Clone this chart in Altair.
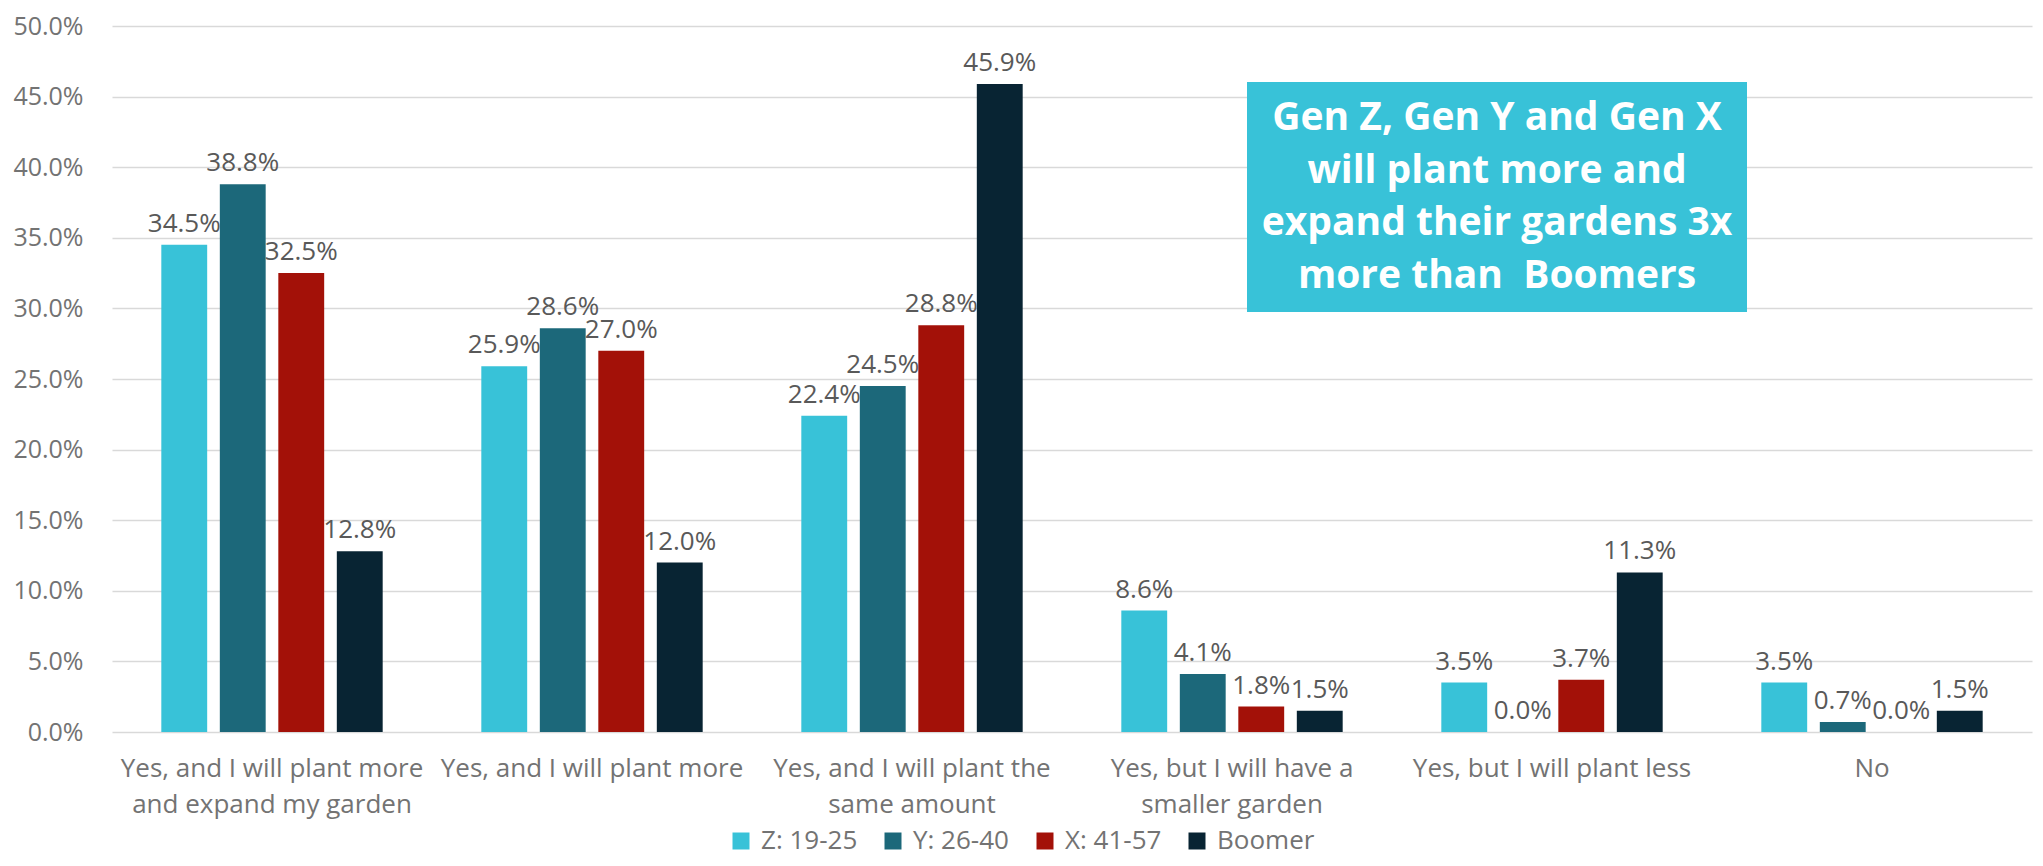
import altair as alt
import pandas as pd

categories = [
    "Yes, and I will plant more|and expand my garden",
    "Yes, and I will plant more",
    "Yes, and I will plant the|same amount",
    "Yes, but I will have a|smaller garden",
    "Yes, but I will plant less",
    "No",
]
series = ["Z: 19-25", "Y: 26-40", "X: 41-57", "Boomer"]
colors = ["#38C2D8", "#1C687A", "#A31108", "#082433"]

gen_z = [34.5, 25.9, 22.4, 8.6, 3.5, 3.5]
gen_y = [38.8, 28.6, 24.5, 4.1, 0.0, 0.7]
gen_x = [32.5, 27.0, 28.8, 1.8, 3.7, 0.0]
boomer = [12.8, 12.0, 45.9, 1.5, 11.3, 1.5]

y_ticks = [0, 5, 10, 15, 20, 25, 30, 35, 40, 45, 50]

note_lines = [
    "Gen Z, Gen Y and Gen X",
    "will plant more and",
    "expand their gardens 3x",
    "more than\u00a0\u00a0Boomers",
]

rows = []
for s, vals in zip(series, [gen_z, gen_y, gen_x, boomer]):
    for c, v in zip(categories, vals):
        rows.append({"category": c, "series": s, "value": v})
df = pd.DataFrame(rows)

W, H = 1920, 706

x_enc = alt.X(
    "category:N",
    sort=categories,
    scale=alt.Scale(paddingInner=0, paddingOuter=0),
    axis=alt.Axis(
        title=None,
        labelAngle=0,
        labelExpr="split(datum.label, '|')",
        labelFontSize=26,
        labelColor="#737373",
        labelLineHeight=36,
        labelPadding=36,
        labelBaseline="middle",
        ticks=False,
        domain=False,
        grid=False,
        labelLimit=400,
    ),
)
xoff = alt.XOffset(
    "series:N",
    sort=series,
    scale=alt.Scale(paddingInner=0.216, paddingOuter=0.843),
)
y_enc = alt.Y(
    "value:Q",
    scale=alt.Scale(domain=[0, 50], nice=False),
    axis=alt.Axis(
        title=None,
        values=y_ticks,
        labelExpr="format(datum.value, '.1f') + '%'",
        labelFontSize=25,
        labelColor="#737373",
        labelPadding=29,
        ticks=False,
        tickSize=0,
        domain=False,
        grid=True,
        gridColor="#D9D9D9",
        gridWidth=1.5,
    ),
)
color_enc = alt.Color(
    "series:N",
    sort=series,
    scale=alt.Scale(domain=series, range=colors),
    legend=alt.Legend(
        title=None,
        orient="none",
        direction="horizontal",
        legendX=616,
        legendY=802,
        symbolType="square",
        symbolSize=289,
        symbolStrokeWidth=0,
        labelFontSize=26,
        labelColor="#737373",
        labelOffset=7,
        columnPadding=21,
        gridAlign="all",
        padding=0,
        labelLimit=300,
    ),
)

base = alt.Chart(df)

bars = base.mark_bar().encode(x=x_enc, xOffset=xoff, y=y_enc, color=color_enc)

labels = (
    base.transform_calculate(label="format(datum.value, '.1f') + '%'")
    .mark_text(baseline="bottom", dy=-8, fontSize=26, color="#595959")
    .encode(x=x_enc, xOffset=xoff, y=y_enc, text="label:N")
)

box = alt.Chart(pd.DataFrame({"k": [0]})).mark_rect(color="#38C2D8").encode(
    x=alt.value(1135), x2=alt.value(1635), y=alt.value(56), y2=alt.value(286)
)
note = alt.Chart(pd.DataFrame({"k": [0]})).mark_text(
    color="white",
    fontSize=39,
    fontWeight="bold",
    align="center",
    baseline="middle",
    lineHeight=52.7,
).encode(x=alt.value(1385), y=alt.value(92), text=alt.value(note_lines))

chart = (
    alt.layer(bars, labels, box, note)
    .properties(
        width=W,
        height=H,
        autosize=alt.AutoSizeParams(type="none"),
        padding={"left": 104, "top": 18, "right": 3, "bottom": 126},
    )
    .configure(font="Open Sans")
    .configure_view(stroke=None)
)

chart.save("out.html", embed_options={"renderer": "svg", "actions": False})
